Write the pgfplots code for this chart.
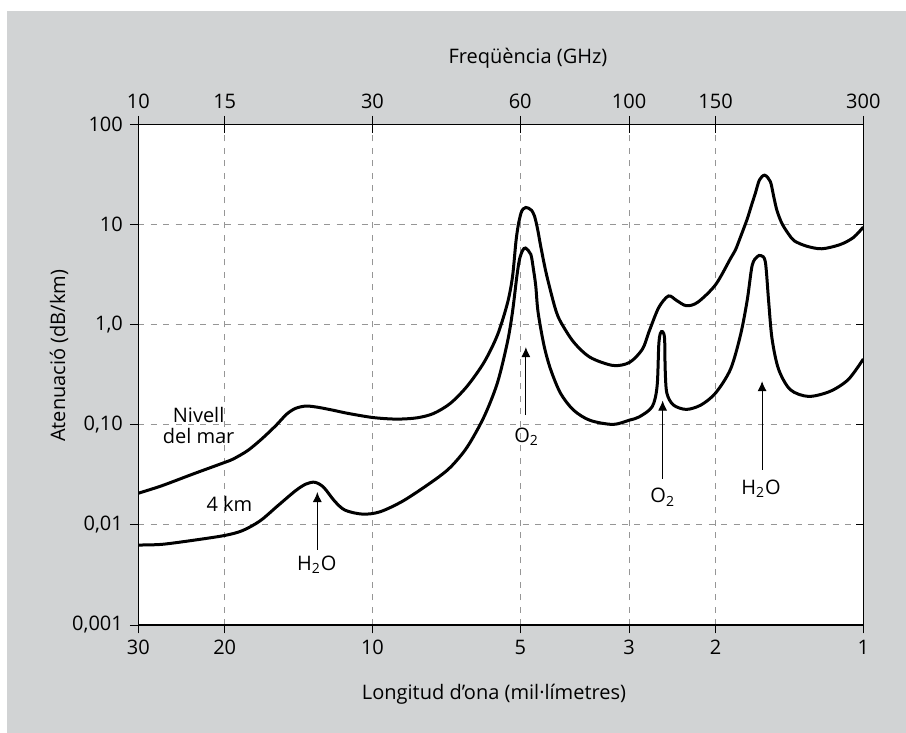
\documentclass[border=0pt]{standalone}
\usepackage{fontspec}
\setmainfont{Open Sans}
\usepackage{pgfplots}
\pgfplotsset{compat=1.18}
\usetikzlibrary{arrows.meta}

\definecolor{bggray}{RGB}{209,211,212}
\definecolor{gridgray}{RGB}{150,150,150}

% frequency (GHz) vs attenuation (dB/km)
\pgfplotstableread{
f      a
10.00  0.0207
11.17  0.0246
12.95  0.0323
15.00  0.04205
15.63  0.04560
16.71  0.05524
17.86  0.07237
19.08  0.0984
20.05  0.1274
20.91  0.1456
21.97  0.1537
23.27  0.1491
24.88  0.1399
26.81  0.1295
30.10  0.1179
33.55  0.1138
36.93  0.1171
39.96  0.1295
43.25  0.1638
46.77  0.2425
50.62  0.4192
53.91  0.785
56.51  1.639
57.86  2.996
58.80  6.719
59.44  9.809
60.20  12.93
60.84  14.29
61.61  14.78
62.42  14.52
63.29  13.82
64.17  12.09
65.08  9.038
66.05  6.056
67.60  3.445
69.18  2.163
70.79  1.425
72.45  1.075
77.05  0.671
83.25  0.4715
92.74  0.3907
100.18 0.4192
106.46 0.569
109.77 0.848
114.91 1.481
120.28 1.931
124.94 1.741
130.78 1.543
137.97 1.671
150.0  2.500
160.9  4.567
164.7  5.579
168.6  7.487
174.0  11.31
177.5  15.45
180.9  20.65
184.3  27.79
188.9  31.06
194.0  26.81
197.0  19.18
200.1  13.73
204.9  10.18
211.3  8.011
217.3  6.833
230.3  6.056
247.1  5.716
269.1  6.295
286.3  7.398
300.0  9.415
}\sealevel

\pgfplotstableread{
f      a
10.00  0.00629
11.17  0.00639
12.95  0.00702
15.00  0.00784
16.30  0.00876
17.71  0.01097
19.24  0.01551
20.91  0.02193
21.97  0.02560
22.90  0.02662
23.86  0.02372
25.08  0.01741
26.36  0.01404
28.64  0.01280
31.07  0.01350
34.68  0.01741
39.96  0.02762
43.25  0.03764
46.77  0.05975
50.62  0.1198
53.91  0.2620
56.51  0.6708
57.86  1.336
59.02  2.960
59.78  4.459
60.65  5.474
61.50  5.813
63.05  5.031
63.82  3.589
64.53  2.440
65.23  1.336
67.07  0.6208
69.18  0.3581
72.45  0.2072
77.05  0.1399
83.25  0.1106
92.74  0.1007
100.18 0.1112
104.87 0.1198
111.44 0.1516
114.02 0.2425
114.91 0.6208
115.75 0.8151
117.03 0.8483
118.10 0.7248
118.43 0.3581
119.35 0.2072
123.07 0.1574
130.78 0.1422
140.07 0.1574
150.0  0.2072
160.9  0.3581
168.6  0.7852
174.0  1.741
178.1  3.887
182.3  4.759
185.7  4.875
189.5  4.218
192.4  1.741
195.5  0.7248
201.6  0.3581
213.0  0.2239
232.0  0.1917
256.8  0.2156
279.7  0.2832
300.0  0.4530
}\fourkm

\begin{document}
\begin{tikzpicture}
\useasboundingbox (0pt,0pt) rectangle (453pt,-366.5pt);
\fill[bggray] (3.5pt,-5.5pt) rectangle (453pt,-366.5pt);
\fill[white] (69.15pt,-312.5pt) rectangle (431.65pt,-62.15pt);

% main axis: curves, grid, wavelength and attenuation ticks
\begin{axis}[
    scale only axis, width=362.5pt, height=250.35pt,
    at={(69.15pt,-312.5pt)}, anchor=south west,
    xmode=log, ymode=log,
    xmin=10, xmax=300, ymin=0.001, ymax=100,
    xtick={10,15,30,60,100,150,300},
    ytick={0.001,0.01,0.1,1,10,100},
    minor xtick={}, minor ytick={},
    minor tick style={draw=none},
    axis line style={black, line width=0.6pt},
    major tick style={black, line width=0.5pt},
    tick label style={font=\fontsize{10}{12}\selectfont},
    xtick pos=left, ytick pos=left,
    tick align=outside, major tick length=4.2pt,
    xticklabels={30,20,10,5,3,2,1},
    yticklabels={{0,001},{0,01},{0,10},{1,0},{10},{100}},
    grid=major,
    major grid style={gridgray, line width=0.5pt, dash pattern=on 3pt off 3.2pt},
]
\addplot[black, line width=1.5pt, smooth] table[x=f, y=a] {\sealevel};
\addplot[black, line width=1.5pt, smooth] table[x=f, y=a] {\fourkm};

\draw[line width=0.5pt, -{Latex[length=5pt,width=4.5pt]}] (axis cs:23.16,0.005633) -- (axis cs:23.16,0.02128);
\draw[line width=0.5pt, -{Latex[length=5pt,width=4.5pt]}] (axis cs:61.61,0.1244) -- (axis cs:61.61,0.5964);
\draw[line width=0.5pt, -{Latex[length=5pt,width=4.5pt]}] (axis cs:117.03,0.02874) -- (axis cs:117.03,0.1745);
\draw[line width=0.5pt, -{Latex[length=5pt,width=4.5pt]}] (axis cs:186.6,0.03537) -- (axis cs:186.6,0.2727);

\node[anchor=base, font=\fontsize{10}{12}\selectfont] at (axis cs:13.27,0.1041) {Nivell};
\node[anchor=base, font=\fontsize{10}{12}\selectfont] at (axis cs:13.27,0.06553) {del mar};
\node[anchor=base, font=\fontsize{10}{12}\selectfont] at (axis cs:15.34,0.01363) {4 km};
\node[anchor=base, font=\fontsize{10}{12}\selectfont] at (axis cs:23.1,0.003497) {H\textsubscript{2}O};
\node[anchor=base, font=\fontsize{10}{12}\selectfont] at (axis cs:61.84,0.06706) {O\textsubscript{2}};
\node[anchor=base, font=\fontsize{10}{12}\selectfont] at (axis cs:117.1,0.01662) {O\textsubscript{2}};
\node[anchor=base, font=\fontsize{10}{12}\selectfont] at (axis cs:185.7,0.02032) {H\textsubscript{2}O};
\end{axis}

% top: frequency ticks across the axis line
\begin{axis}[
    scale only axis, width=362.5pt, height=250.35pt,
    at={(69.15pt,-312.5pt)}, anchor=south west,
    xmode=log, ymode=log,
    xmin=10, xmax=300, ymin=0.001, ymax=100,
    xtick={10,15,30,60,100,150,300}, ytick=\empty,
    minor xtick={}, minor ytick={},
    minor tick style={draw=none},
    axis line style={black, line width=0.6pt},
    major tick style={black, line width=0.5pt},
    tick label style={font=\fontsize{10}{12}\selectfont},
    xtick pos=right,
    tick align=center, major tick length=8.5pt,
    xticklabels={10,15,30,60,100,150,300},
]
\end{axis}

% right: inner ticks only
\begin{axis}[
    scale only axis, width=362.5pt, height=250.35pt,
    at={(69.15pt,-312.5pt)}, anchor=south west,
    xmode=log, ymode=log,
    xmin=10, xmax=300, ymin=0.001, ymax=100,
    xtick=\empty, ytick={0.001,0.01,0.1,1,10,100},
    minor xtick={}, minor ytick={},
    minor tick style={draw=none},
    axis line style={black, line width=0.6pt},
    major tick style={black, line width=0.5pt},
    ytick pos=right,
    tick align=inside, major tick length=3.5pt,
    yticklabels={},
]
\end{axis}

\node[font=\fontsize{10}{12}\selectfont] at (264pt,-29pt) {Freqüència (GHz)};
\node[font=\fontsize{10}{12}\selectfont] at (247pt,-347pt) {Longitud d’ona (mil·límetres)};
\node[font=\fontsize{10}{12}\selectfont, rotate=90] at (29.5pt,-177.9pt) {Atenuació (dB/km)};
\end{tikzpicture}
\end{document}
